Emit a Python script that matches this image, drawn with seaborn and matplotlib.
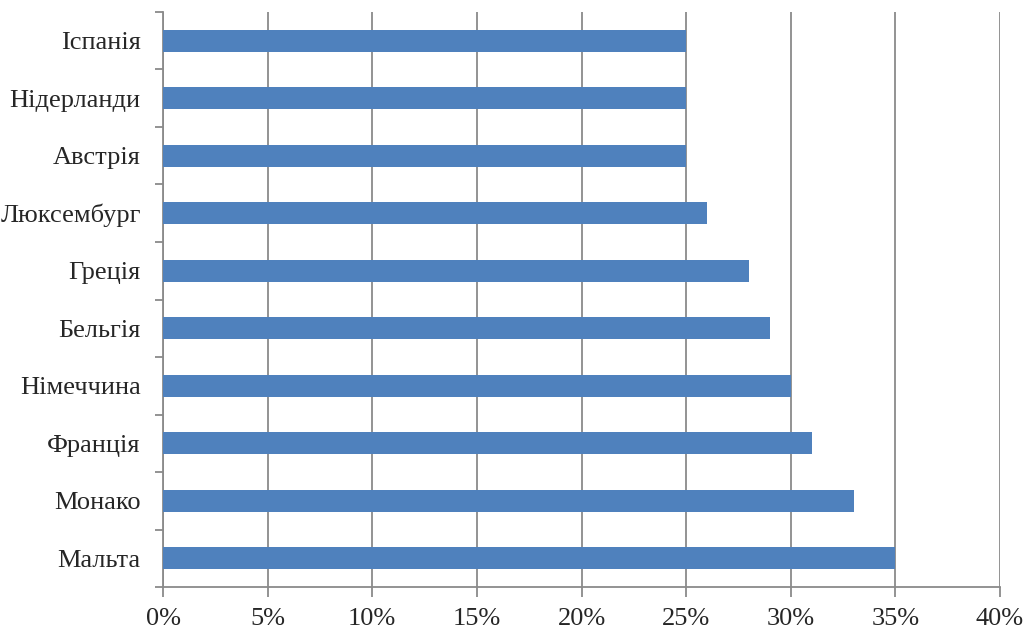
import numpy as np
import pandas as pd
import matplotlib
matplotlib.use("Agg")
import matplotlib.pyplot as plt
from matplotlib.ticker import FuncFormatter, FixedLocator
import seaborn as sns

countries = ["Іспанія", "Нідерланди", "Австрія", "Люксембург", "Греція",
             "Бельгія", "Німеччина", "Франція", "Монако", "Мальта"]
shares = [25, 25, 25, 26, 28, 29, 30, 31, 33, 35]
x_ticks = [0, 5, 10, 15, 20, 25, 30, 35, 40]

bar_color = "#4F81BD"
grid_color = "#8A8A8A"

sns.set_theme(style="white")
plt.rcParams['font.family'] = ['Liberation Serif', 'DejaVu Serif']

df = pd.DataFrame({"country": countries, "share": shares})

fig = plt.figure(figsize=(10.24, 6.31), dpi=100)
ax = fig.add_axes([0.1592, 0.0697, 0.8174, 0.9113])

sns.barplot(data=df, x="share", y="country", orient="h", color=bar_color,
            width=0.39, saturation=1, linewidth=0, ax=ax, zorder=3)

ax.set_xlim(0, 40)
ax.set_ylim(len(countries) - 0.5, -0.5)
ax.xaxis.set_major_locator(FixedLocator(x_ticks))
ax.xaxis.set_major_formatter(FuncFormatter(lambda v, p: f"{v:.0f}%"))
ax.grid(axis="x", color=grid_color, linewidth=1.3)
ax.grid(axis="y", visible=False)
ax.set_axisbelow(True)

ax.set_xlabel("")
ax.set_ylabel("")
for s in ["top", "right"]:
    ax.spines[s].set_visible(False)
for s in ["left", "bottom"]:
    ax.spines[s].set_color(grid_color)
    ax.spines[s].set_linewidth(1.3)

ax.tick_params(axis="x", length=7, width=1.3, color=grid_color, labelsize=19,
               pad=8, bottom=True)
ax.tick_params(axis="y", which="major", length=0, labelsize=19, pad=16)
ax.set_yticks(np.arange(-0.5, len(countries), 1), minor=True)
ax.tick_params(axis="y", which="minor", length=6, width=1.3, color=grid_color, left=True)

fig.savefig("out.png", dpi=100)
